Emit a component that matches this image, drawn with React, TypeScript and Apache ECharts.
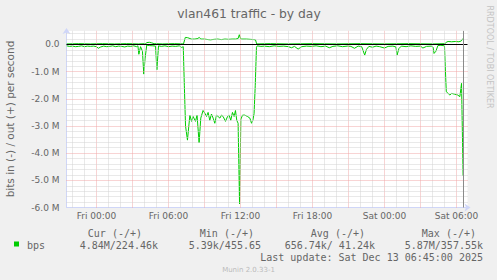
import React, { useEffect, useRef } from "react";
import * as echarts from "echarts";

// ---- data (hours relative to Fri 00:00, values in M bits/s) ----
const inData: [number, number][] = [
  [-2.48, -0.05], [-2.25, -0.07], [-2.0, -0.06], [-1.75, -0.08], [-1.5, -0.07], [-1.25, -0.05],
  [-1.0, -0.08], [-0.75, -0.06], [-0.5, -0.07], [-0.25, -0.06], [0.0, -0.08], [0.15, -0.14],
  [0.35, -0.09], [0.6, -0.06], [0.85, -0.08], [1.1, -0.07], [1.35, -0.05], [1.6, -0.08],
  [1.85, -0.06], [2.1, -0.07], [2.35, -0.09], [2.6, -0.06], [2.85, -0.07], [3.1, -0.05],
  [3.35, -0.08], [3.45, -0.05], [3.53, -0.36], [3.67, -0.08], [3.83, -0.25], [3.94, -1.09],
  [4.05, -0.5], [4.19, -0.02], [4.4, -0.04], [4.7, -0.05], [4.92, -0.06], [5.03, -0.93],
  [5.17, -0.05], [5.4, -0.07], [5.7, -0.05], [6.0, -0.08], [6.3, -0.06], [6.6, -0.07],
  [6.9, -0.05], [7.1, -0.11], [7.23, -0.08], [7.32, -1.5], [7.42, -3.0], [7.58, -3.52],
  [7.78, -2.6], [7.92, -2.83], [8.05, -2.65], [8.25, -2.83], [8.38, -2.6], [8.55, -3.62],
  [8.69, -2.71], [8.88, -2.43], [9.03, -2.53], [9.17, -2.65], [9.3, -2.5], [9.44, -2.79],
  [9.58, -2.56], [9.72, -2.71], [9.86, -2.9], [10.0, -2.6], [10.13, -2.65], [10.28, -2.71],
  [10.42, -2.6], [10.55, -2.65], [10.75, -2.83], [10.92, -2.65], [11.05, -2.6], [11.19, -2.79],
  [11.33, -2.5], [11.47, -2.65], [11.58, -2.43], [11.69, -2.79], [11.8, -2.9], [11.92, -5.87],
  [12.03, -2.75], [12.17, -2.6], [12.36, -2.6], [12.58, -2.65], [12.78, -2.71], [12.92, -2.9],
  [13.03, -2.79], [13.13, -2.55], [13.23, -1.5], [13.33, -0.1], [13.4, -0.05], [13.7, -0.07],
  [14.0, -0.06], [14.4, -0.08], [14.8, -0.05], [15.2, -0.07], [15.6, -0.06], [16.0, -0.08],
  [16.25, -0.12], [16.5, -0.07], [16.8, -0.17], [17.1, -0.08], [17.5, -0.06], [17.9, -0.07],
  [18.3, -0.05], [18.7, -0.08], [19.1, -0.06], [19.4, -0.12], [19.7, -0.07], [20.1, -0.05],
  [20.5, -0.08], [20.9, -0.06], [21.2, -0.07], [21.5, -0.14], [21.8, -0.06], [22.1, -0.08],
  [22.35, -0.39], [22.5, -0.18], [22.7, -0.07], [23.0, -0.1], [23.3, -0.06], [23.6, -0.08],
  [24.0, -0.13], [24.3, -0.07], [24.7, -0.06], [24.95, -0.09], [25.05, -0.39], [25.2, -0.15],
  [25.4, -0.06], [25.8, -0.08], [26.2, -0.05], [26.6, -0.07], [27.0, -0.06], [27.2, -0.13],
  [27.5, -0.07], [27.9, -0.06], [28.05, -0.1], [28.13, -0.33], [28.28, -0.25], [28.45, -0.04],
  [28.7, -0.03], [29.0, -0.05], [29.08, -1.0], [29.15, -1.74], [29.3, -1.8], [29.45, -1.86],
  [29.6, -1.8], [29.85, -1.83], [30.1, -1.86], [30.28, -1.92], [30.42, -1.43], [30.55, -4.84],
];

const outData: [number, number][] = [
  [-2.48, 0.02], [-1.5, 0.03], [-0.5, 0.02], [0.5, 0.03], [1.5, 0.02], [2.5, 0.03],
  [3.5, 0.02], [4.1, 0.03], [4.2, 0.07], [4.4, 0.08], [4.6, 0.06], [4.8, 0.03],
  [5.5, 0.02], [6.5, 0.03], [7.25, 0.02], [7.4, 0.26], [7.6, 0.25], [7.9, 0.2],
  [8.2, 0.2], [8.45, 0.22], [8.55, 0.26], [8.7, 0.2], [9.0, 0.2], [9.3, 0.18],
  [9.5, 0.17], [9.8, 0.19], [10.1, 0.2], [10.4, 0.18], [10.7, 0.2], [11.0, 0.19],
  [11.3, 0.2], [11.6, 0.2], [11.8, 0.22], [11.9, 0.36], [12.0, 0.22], [12.1, 0.2],
  [12.5, 0.2], [12.8, 0.19], [13.1, 0.18], [13.25, 0.17], [13.35, 0.02], [14.5, 0.03],
  [16.0, 0.02], [18.0, 0.03], [20.0, 0.02], [22.0, 0.03], [24.0, 0.02], [26.0, 0.03],
  [28.0, 0.02], [29.05, 0.03], [29.15, 0.085], [29.3, 0.11], [29.6, 0.1], [29.9, 0.11],
  [30.2, 0.1], [30.4, 0.13], [30.55, 0.224],
];

const xTickHours = [0, 6, 12, 18, 24, 30];
const xTickLabels = ["Fri 00:00", "Fri 06:00", "Fri 12:00", "Fri 18:00", "Sat 00:00", "Sat 06:00"];
const yTickValues = [-6, -5, -4, -3, -2, -1, 0];

const titleText = "vlan461 traffic - by day";
const unitText = "bits in (-) / out (+) per second";
const watermarkText = "RRDTOOL / TOBI OETIKER";
const legendName = "bps";
const legendHeaders = ["Cur (-/+)", "Min (-/+)", "Avg (-/+)", "Max (-/+)"];
const legendValues = ["4.84M/224.46k", "5.39k/455.65", "656.74k/ 41.24k", "5.87M/357.55k"];
const lastUpdate = "Last update: Sat Dec 13 06:45:00 2025";
const footerText = "Munin 2.0.33-1";

const X_MIN = -2.5;
const X_MAX = 30.9167;
const Y_MIN = -6;
const Y_MAX = 0.5;
const NOW_HOUR = 30.58;

export default function App() {
  const ref = useRef<HTMLDivElement>(null);
  useEffect(() => {
    if (!ref.current) return;
    const chart = echarts.init(ref.current, undefined, { renderer: "svg" });
    const FONT = "#666666";
    const GRAY = "#d2d2d2";
    const RED = "#f0a8a8";
    const grid: any[] = [];
    for (let h = Math.ceil(X_MIN); h <= Math.floor(X_MAX); h++) {
      grid.push({
        xAxis: h,
        lineStyle: { color: h % 3 === 0 ? RED : GRAY, type: [1, 1], width: 1 },
      });
    }
    for (let i = -29; i <= 2; i++) {
      const v = i * 0.2;
      if (i === 0) continue;
      grid.push({
        yAxis: v,
        lineStyle: { color: i % 5 === 0 ? RED : GRAY, type: [1, 1], width: 1 },
      });
    }
    const mono = "DejaVu Sans Mono";
    const txt = (text: string, x: number, y: number, size: number, fill: string, family: string, align = "left", rotation = 0) => ({
      type: "text",
      x,
      y,
      rotation,
      silent: true,
      style: {
        text,
        fontSize: size,
        fontFamily: family,
        fill,
        align,
        textAlign: align,
        verticalAlign: "middle",
        textVerticalAlign: "middle",
      },
    });
    const headerRight = [142, 254, 365, 476];
    const valueRight = [158, 261, 375, 483];
    const graphics: any[] = [
      txt(titleText, 249, 14, 12.3, FONT, "DejaVu Sans", "center"),
      txt(unitText, 10, 119, 10.5, FONT, "DejaVu Sans", "center", Math.PI / 2),
      txt(watermarkText, 489, 57, 8, "#c4c4c4", "DejaVu Sans", "center", -Math.PI / 2),
      {
        type: "rect",
        shape: { x: 14, y: 241.5, width: 5, height: 5 },
        style: { fill: "#00cc00" },
        silent: true,
      },
      txt(legendName, 27, 245.5, 10, FONT, mono, "left"),
      ...legendHeaders.map((t, i) => txt(t, headerRight[i], 233.5, 10, FONT, mono, "right")),
      ...legendValues.map((t, i) => txt(t, valueRight[i], 245.5, 10, FONT, mono, "right")),
      txt(lastUpdate, 483, 257.5, 10, FONT, mono, "right"),
      txt(footerText, 248.5, 269.5, 7, "#bbbbbb", "DejaVu Sans", "center"),
    ];
    chart.setOption({
      animation: false,
      backgroundColor: "#f0f0f0",
      grid: {
        left: 66.5,
        right: 29.5,
        top: 30.9,
        bottom: 72.5,
        show: true,
        backgroundColor: "#ffffff",
        borderWidth: 0,
      },
      xAxis: {
        type: "value",
        min: X_MIN,
        max: X_MAX,
        axisLine: {
          show: true,
          onZero: false,
          lineStyle: { color: "#CFD6F8", width: 1 },
          symbol: ["none", "arrow"],
          symbolSize: [6, 6],
          symbolOffset: [0, 3],
        },
        axisTick: { show: false },
        splitLine: { show: false },
        axisLabel: {
          customValues: xTickHours,
          formatter: (v: number) => {
            const i = xTickHours.indexOf(Math.round(v));
            return i >= 0 ? xTickLabels[i] : "";
          },
          color: FONT,
          fontSize: 9,
          fontFamily: "DejaVu Sans",
          margin: 4,
        },
      },
      yAxis: {
        type: "value",
        min: Y_MIN,
        max: Y_MAX,
        axisLine: {
          show: true,
          onZero: false,
          lineStyle: { color: "#CFD6F8", width: 1 },
          symbol: ["none", "arrow"],
          symbolSize: [6, 6],
          symbolOffset: [0, 3],
        },
        axisTick: { show: false },
        splitLine: { show: false },
        axisLabel: {
          customValues: yTickValues,
          formatter: (v: number) => (Math.abs(v) < 1e-9 ? "0.0" : v.toFixed(1) + " M"),
          color: FONT,
          fontSize: 9,
          fontFamily: "DejaVu Sans",
          margin: 7,
        },
      },
      series: [
        {
          type: "line",
          data: [],
          z: 1,
          silent: true,
          markLine: {
            silent: true,
            symbol: ["none", "none"],
            label: { show: false },
            animation: false,
            data: grid,
          },
        },
        {
          name: "in",
          type: "line",
          data: inData,
          showSymbol: false,
          z: 3,
          lineStyle: { color: "#00cc00", width: 1 },
          itemStyle: { color: "#00cc00" },
        },
        {
          name: "out",
          type: "line",
          data: outData,
          showSymbol: false,
          z: 3,
          lineStyle: { color: "#00cc00", width: 1 },
          itemStyle: { color: "#00cc00" },
        },
        {
          type: "line",
          data: [],
          z: 5,
          silent: true,
          markLine: {
            silent: true,
            symbol: ["none", "none"],
            label: { show: false },
            animation: false,
            data: [
              { yAxis: 0, lineStyle: { color: "#000000", type: "solid", width: 1 } },
              { xAxis: NOW_HOUR, lineStyle: { color: "#8a8a8a", type: "solid", width: 1 } },
            ],
          },
        },
      ],
      graphic: graphics,
    });
    return () => chart.dispose();
  }, []);
  return (
    <div
      ref={ref}
      style={{ position: "fixed", left: 0, top: 0, width: 497, height: 280 }}
    />
  );
}
